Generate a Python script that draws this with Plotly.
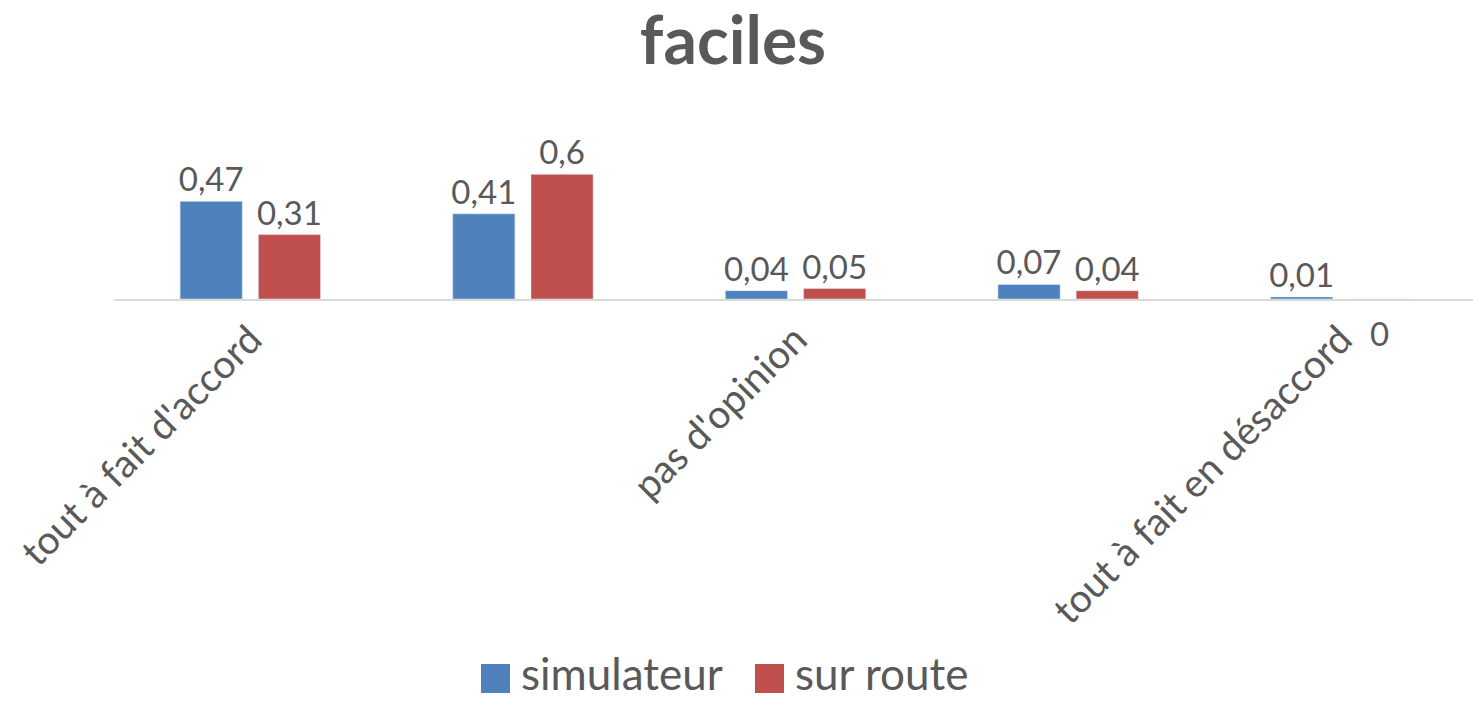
import plotly.graph_objects as go

categories = ["tout à fait d'accord", "d'accord", "pas d'opinion", "pas d'accord", "tout à fait en désaccord"]
simulateur = [0.47, 0.41, 0.04, 0.07, 0.01]
sur_route = [0.31, 0.6, 0.05, 0.04, 0]
shown_ticks = [categories[0], categories[2], categories[4]]
series_names = ["simulateur", "sur route"]
series_colors = ["#4F81BD", "#C0504D"]

FONT = "Lato"
TXT = "#595959"
W, H = 1473, 701
L, R, T, B = 114, 0, 112, 402
PW, PH = W - L - R, H - T - B

def px_x(p):
    return (p - L) / PW

def px_y(p):
    return (H - B - p) / PH

def label_pos(vals):
    return ["outside" if v > 0 else "none" for v in vals]

fig = go.Figure()
for name, vals, col in zip(series_names, [simulateur, sur_route], series_colors):
    fig.add_trace(go.Bar(name=name, x=categories, y=vals, marker_color=col,
                         text=vals, texttemplate="%{y}", textposition=label_pos(vals),
                         constraintext="none", showlegend=False,
                         textfont=dict(family=FONT, size=33, color=TXT), cliponaxis=False))

# zero-valued labels placed below the axis as in the original
for i, v in enumerate(sur_route):
    if v == 0:
        fig.add_annotation(x=categories[i], y=v, text="0", showarrow=False, xshift=39, yshift=-34,
                           font=dict(family=FONT, size=33, color=TXT))
for i, v in enumerate(simulateur):
    if v == 0:
        fig.add_annotation(x=categories[i], y=v, text="0", showarrow=False, xshift=-39, yshift=-34,
                           font=dict(family=FONT, size=33, color=TXT))

# legend (large square swatches like the original)
legend_items = [(481, 519), (755, 793)]
for (sq_x, tx_x), name, col in zip(legend_items, series_names, series_colors):
    fig.add_shape(type="rect", xref="paper", yref="paper",
                  x0=px_x(sq_x), x1=px_x(sq_x + 29), y0=px_y(693), y1=px_y(664),
                  fillcolor=col, line=dict(width=0))
    fig.add_annotation(xref="paper", yref="paper", x=px_x(tx_x), y=px_y(673), text=name,
                       showarrow=False, xanchor="left", yanchor="middle",
                       font=dict(family=FONT, size=44, color=TXT))

fig.update_layout(
    width=W, height=H,
    margin=dict(l=L, r=R, t=T, b=B, autoexpand=False),
    paper_bgcolor="white", plot_bgcolor="white",
    separators=", ",
    barmode="group", bargap=0.426, bargroupgap=0.205,
    title=dict(text="<b>faciles</b>", x=733 / W, xref="container", y=1 - 41 / H, yref="container",
               xanchor="center", yanchor="middle", font=dict(family=FONT, size=66, color=TXT)),
    showlegend=False,
    xaxis=dict(tickmode="array", tickvals=shown_ticks, ticktext=shown_ticks, tickangle=-45,
               tickfont=dict(family=FONT, size=39, color=TXT), showline=True, linecolor="#D9D9D9",
               linewidth=2, ticks="", automargin=False, range=[-0.5, 4.485]),
    yaxis=dict(range=[0, 0.9], visible=False, showgrid=False, zeroline=False, automargin=False),
)

fig.write_html("out.html", config={"displayModeBar": False},
               post_script="document.body.style.margin='0';")
